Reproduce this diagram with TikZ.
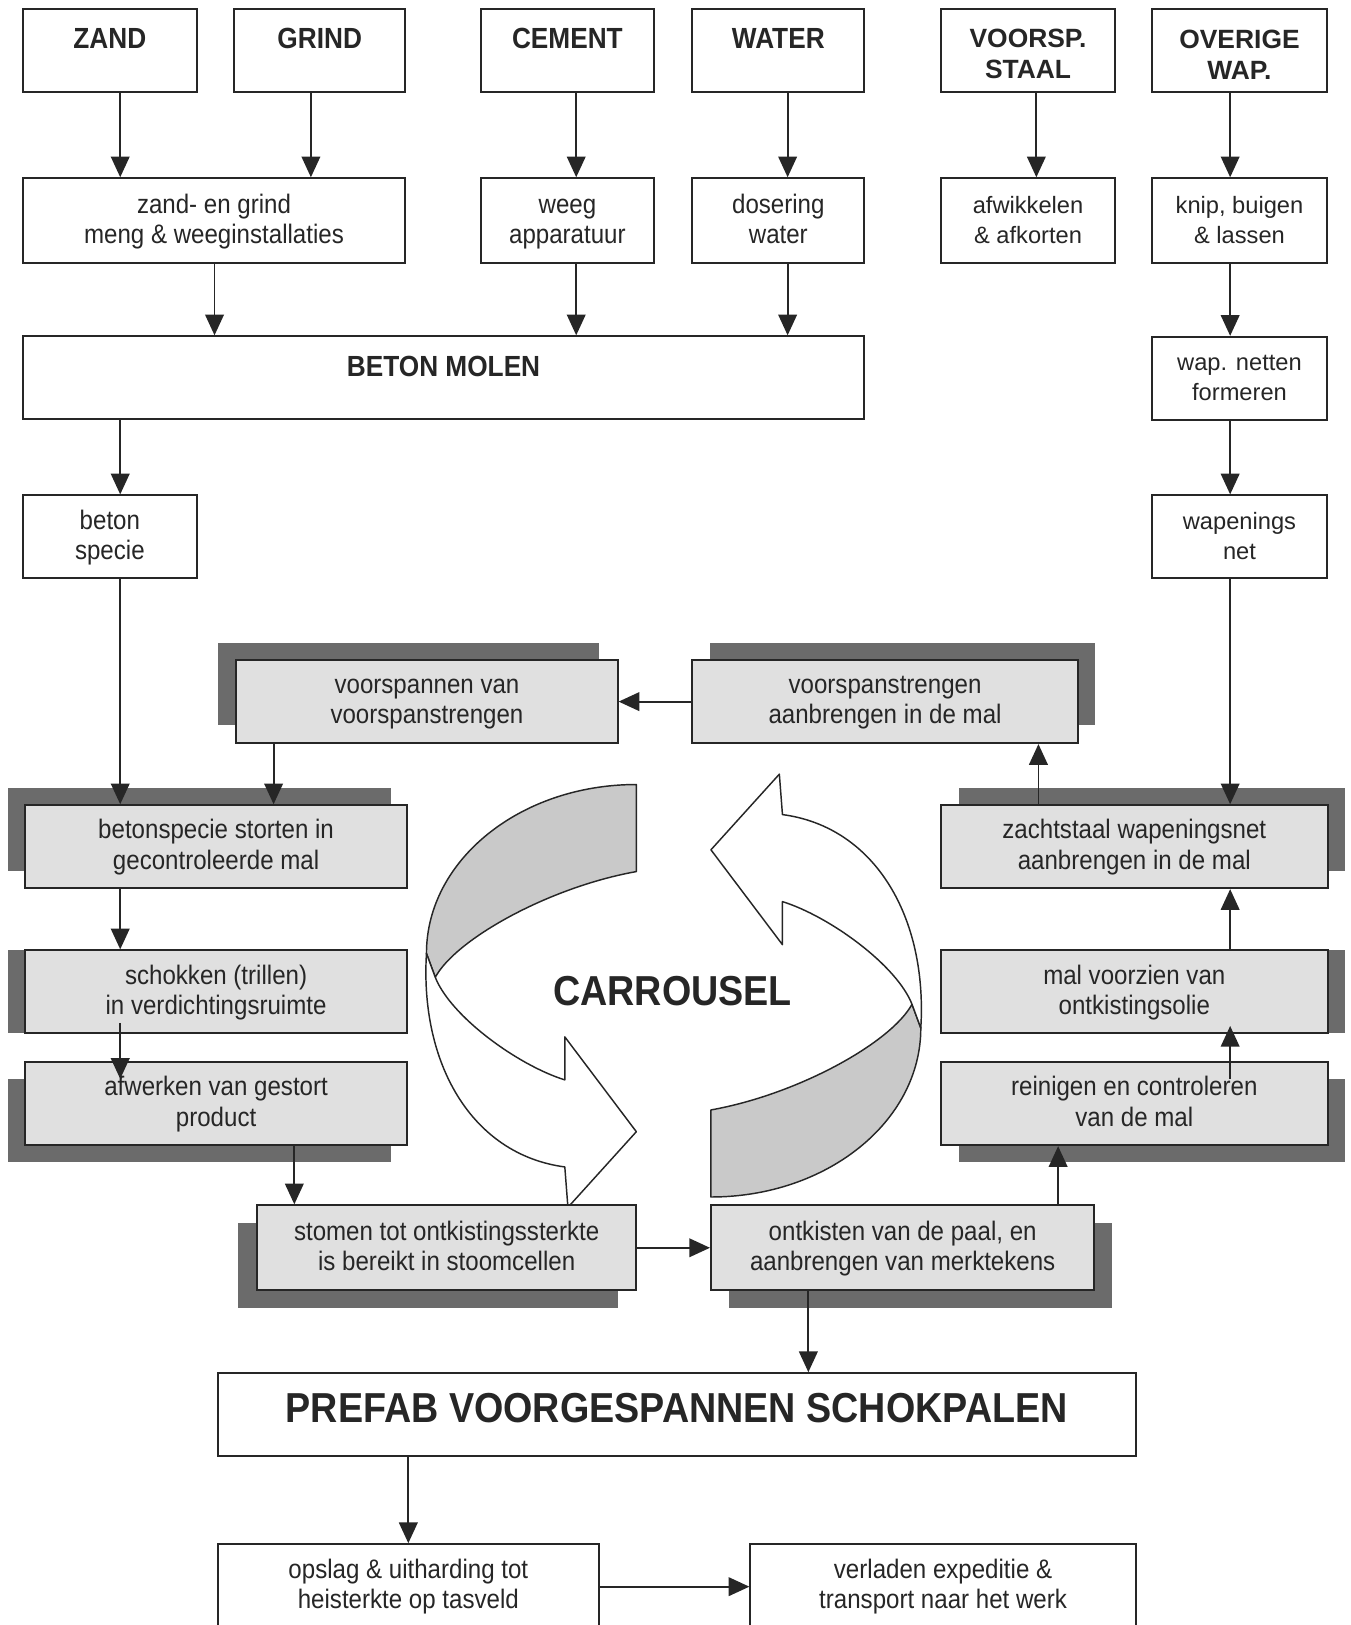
\documentclass[tikz,border=0pt]{standalone}
\usepackage{fontspec}
\setmainfont{Liberation Sans}
\newfontfamily\narrowfont[FakeStretch=0.9]{Liberation Sans}
\usetikzlibrary{arrows.meta,shadows}

\definecolor{linegray}{gray}{0.15}
\definecolor{boxgray}{gray}{0.88}
\definecolor{shadowgray}{gray}{0.42}
\definecolor{ribbongray}{gray}{0.79}

\newcommand*{\procfont}{\narrowfont\fontsize{14.7}{16.5}\selectfont}
\newcommand*{\headfont}{\narrowfont\bfseries\fontsize{16}{19}\selectfont}
\newcommand*{\wideprocfont}{\fontsize{13}{16.5}\selectfont}
\newcommand*{\wideheadfont}{\bfseries\fontsize{14.5}{17}\selectfont}
\newcommand*{\bigfont}{\narrowfont\bfseries\fontsize{23}{27}\selectfont}

\newcommand*{\carrouselHalf}[1]{ %#1 is the turn round the centre
	\begin{scope}[shift={(650,956)}, rotate=#1]
		% back of the ribbon
		\filldraw[ribbon, fill=ribbongray] (-36,-199) .. controls (-148,-199) and (-238.5,-126) .. (-238.5,-36)
		-- (-230,-13) .. controls (-210,-50) and (-120,-100) .. (-36,-115) -- cycle;
		% front of the ribbon with its head
		\filldraw[ribbon, fill=white] (-238.5,-36) .. controls (-245,70) and (-195,158) .. (-105,170)
		-- (-102,209) -- (-36,136) -- (-105,44.5) -- (-105,86)
		.. controls (-150,72) and (-215,25) .. (-230,-13) -- cycle;
	\end{scope}
}

\tikzset{
	box/.style={draw=linegray, line width=1.1pt, fill=white, text=linegray, inner xsep=0pt, inner ysep=0pt,
		minimum height=1.6cm, align=center, font=\procfont,
		execute at begin node={\rule{0pt}{29.5pt}}, execute at end node={\rule[-5pt]{0pt}{5pt}}},
	headbox/.style={box, font=\headfont, text height=0.77cm, text depth=0.83cm},
	widebox/.style={box, font=\wideprocfont},
	wideheadbox/.style={box, font=\wideheadfont, execute at begin node={\rule{0pt}{36.4pt}}},
	procbox/.style={box, fill=boxgray},
	shadowed/.style 2 args={procbox, drop shadow={shadow xshift=#1, shadow yshift=#2, fill=shadowgray, opacity=1}},
	flow/.style={draw=linegray, line width=1pt, -{Triangle[length=0.4cm, width=0.36cm]}},
	ribbon/.style={draw=linegray, line width=0.8pt, line join=round}
}

\begin{document}
\begin{tikzpicture}[x=0.02cm, y=-0.02cm]
		\useasboundingbox (0,0) rectangle (1303,1568);
		\fill[white] (0,0) rectangle (1303,1568);
		
		% raw materials
		\node[headbox, minimum width=3.36cm] (zand) at (106,48.5) {ZAND};
		\node[headbox, minimum width=3.30cm] (grind) at (308.5,48.5) {GRIND};
		\node[headbox, minimum width=3.34cm] (cement) at (547.5,48.5) {CEMENT};
		\node[headbox, minimum width=3.32cm] (water) at (751,48.5) {WATER};
		\node[wideheadbox, minimum width=3.36cm] (voorsp) at (992,48.5) {VOORSP.\\STAAL};
		\node[wideheadbox, minimum width=3.36cm] (overige) at (1196,49) {OVERIGE\\WAP.};
		
		% preparation
		\node[box, minimum width=7.38cm, minimum height=1.64cm] (mix) at (206.5,213) {zand- en grind\\meng \& weeginstallaties};
		\node[box, minimum width=3.34cm, minimum height=1.64cm] (weeg) at (547.5,213) {weeg\\apparatuur};
		\node[box, minimum width=3.32cm, minimum height=1.64cm] (dosering) at (751,213) {dosering\\water};
		\node[widebox, minimum width=3.36cm, minimum height=1.64cm] (afwikkel) at (992,213) {afwikkelen\\\& afkorten};
		\node[widebox, minimum width=3.36cm, minimum height=1.64cm] (knip) at (1196,213) {knip, buigen\\\& lassen};
		
		\node[headbox, minimum width=16.24cm] (molen) at (428,364.5) {BETON MOLEN};
		\node[widebox, minimum width=3.36cm] (netten) at (1196,365) {wap. netten\\formeren};
		\node[box, minimum width=3.36cm] (specie) at (106,518) {beton\\specie};
		\node[widebox, minimum width=3.36cm] (wapnet) at (1196,518) {wapenings\\net};
		
		% the carrousel
		\carrouselHalf{0}
		\carrouselHalf{180}
		\node[font=\bigfont, text=linegray] (carrousel) at (649,956) {CARROUSEL};
		
		% steps round the carrousel
		\node[shadowed={-0.36cm}{0.34cm}, minimum width=7.36cm] (voorspan) at (412,677) {voorspannen van\\voorspanstrengen};
		\node[shadowed={0.34cm}{0.34cm}, minimum width=7.44cm] (strengen) at (854,677) {voorspanstrengen\\aanbrengen in de mal};
		\node[shadowed={-0.32cm}{0.34cm}, minimum width=7.38cm] (storten) at (208.5,817) {betonspecie storten in\\gecontroleerde mal};
		\node[shadowed={-0.32cm}{0cm}, minimum width=7.38cm] (schokken) at (208.5,957) {schokken (trillen)\\in verdichtingsruimte};
		\node[shadowed={-0.32cm}{-0.32cm}, minimum width=7.38cm] (afwerken) at (208.5,1065) {afwerken van gestort\\product};
		\node[shadowed={-0.36cm}{-0.34cm}, minimum width=7.32cm, minimum height=1.64cm] (stomen) at (431,1204) {stomen tot ontkistingssterkte\\is bereikt in stoomcellen};
		\node[shadowed={0.34cm}{-0.34cm}, minimum width=7.40cm, minimum height=1.64cm] (ontkisten) at (871,1204) {ontkisten van de paal, en\\aanbrengen van merktekens};
		\node[shadowed={0.34cm}{0.34cm}, minimum width=7.46cm] (zachtstaal) at (1094.5,817) {zachtstaal wapeningsnet\\aanbrengen in de mal};
		\node[shadowed={0.34cm}{0cm}, minimum width=7.46cm] (olie) at (1094.5,957) {mal voorzien van\\ontkistingsolie};
		\node[shadowed={0.34cm}{-0.32cm}, minimum width=7.46cm] (reinigen) at (1094.5,1065) {reinigen en controleren\\van de mal};
		
		% end product
		\node[box, font=\bigfont, text height=0.95cm, text depth=0.65cm, minimum width=17.72cm] (prefab) at (653,1365) {PREFAB VOORGESPANNEN SCHOKPALEN};
		\node[box, minimum width=7.36cm, minimum height=1.64cm] (opslag) at (394,1531) {opslag \& uitharding tot\\heisterkte op tasveld};
		\node[box, minimum width=7.44cm, minimum height=1.64cm] (verladen) at (910,1531) {verladen expeditie \&\\transport naar het werk};
		
		% arrows going down
		\foreach \a/\b/\x in {zand/mix/116, grind/mix/300, cement/weeg/556, water/dosering/760,
			voorsp/afwikkel/1000, overige/knip/1187, mix/molen/207, weeg/molen/556, dosering/molen/760,
			knip/netten/1187, molen/specie/116, netten/wapnet/1187, specie/storten/116, voorspan/storten/264,
			wapnet/zachtstaal/1187, storten/schokken/116, afwerken/stomen/284, ontkisten/prefab/780, prefab/opslag/394}
		{
			\draw[flow] (\x,0 |- \a.south) -- (\x,0 |- \b.north);
		}
		% arrows going up
		\foreach \a/\b/\x in {zachtstaal/strengen/1002, olie/zachtstaal/1187, ontkisten/reinigen/1021}
		{
			\draw[flow] (\x,0 |- \a.north) -- (\x,0 |- \b.south);
		}
		% these two run into the boxes
		\draw[flow, shorten <=-0.22cm, shorten >=-0.34cm] (116,0 |- schokken.south) -- (116,0 |- afwerken.north);
		\draw[flow, shorten <=-0.34cm, shorten >=-0.16cm] (1187,0 |- reinigen.north) -- (1187,0 |- olie.south);
		% arrows sideways
		\draw[flow] (strengen.west) -- (voorspan.east);
		\draw[flow] (stomen.east) -- (ontkisten.west);
		\draw[flow] (opslag.east) -- (verladen.west);
		
	\end{tikzpicture}
\end{document}
